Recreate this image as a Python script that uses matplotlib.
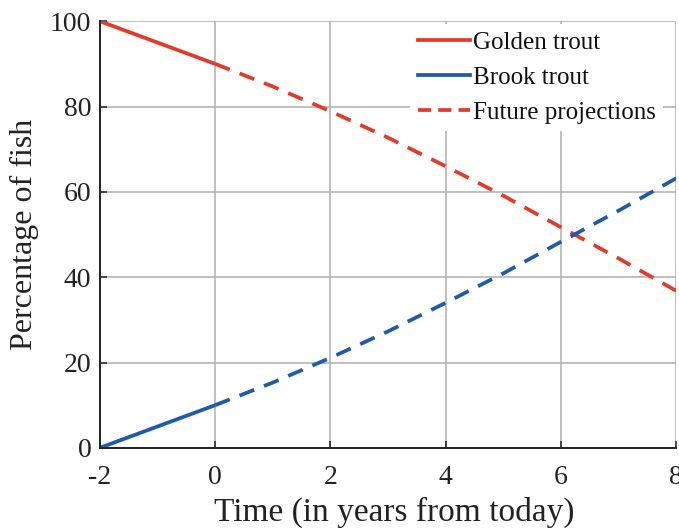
import matplotlib
matplotlib.use("Agg")
import matplotlib.pyplot as plt
from matplotlib.lines import Line2D

plt.rcParams['font.family'] = ['Liberation Serif', 'DejaVu Serif']
plt.rcParams['axes.unicode_minus'] = False

# Data
years_past = [-2, -1, 0]
golden_past = [100, 95, 90]
brook_past = [0, 5, 10]
years_future = [0, 1, 2, 3, 4, 5, 6, 7, 8]
golden_future = [90, 84.7, 78.9, 72.7, 66.0, 59.1, 51.7, 44.4, 36.8]
brook_future = [10, 15.3, 21.1, 27.3, 34.0, 40.9, 48.3, 55.6, 63.2]
xticks = [-2, 0, 2, 4, 6, 8]
yticks = [0, 20, 40, 60, 80, 100]

red = '#E33B2B'
blue = '#1F5BAA'
dash = (0, (4.2, 2.8))

fig = plt.figure(figsize=(6.79, 5.30), dpi=100)
ax = fig.add_axes([0.147, 0.155, 0.849, 0.805])

ax.plot(years_past, golden_past, color=red, lw=2.7, solid_capstyle='butt')
ax.plot(years_past, brook_past, color=blue, lw=2.7, solid_capstyle='butt')
ax.plot(years_future, golden_future, color=red, lw=2.7, linestyle=dash)
ax.plot(years_future, brook_future, color=blue, lw=2.7, linestyle=dash)

ax.set_xlim(-2, 8)
ax.set_ylim(0, 100)
ax.set_xticks(xticks)
ax.set_yticks(yticks)
ax.grid(True, color='#b4b4b4', lw=1.2)
ax.set_axisbelow(True)
for s in ['top', 'right']:
    ax.spines[s].set_visible(False)
for s in ['left', 'bottom']:
    ax.spines[s].set_linewidth(1.4)
    ax.spines[s].set_color('#222222')
ax.tick_params(direction='in', length=5, width=1.1, labelsize=20, colors='#222222')
ax.tick_params(axis='x', pad=12)
ax.tick_params(axis='y', pad=6)
ax.set_xlabel('Time (in years from today)', fontsize=24, color='#222222')
ax.xaxis.set_label_coords(0.51, -0.115)
ax.set_ylabel('Percentage of fish', fontsize=23, color='#222222', labelpad=8)

handles = [Line2D([], [], color=red, lw=2.7),
           Line2D([], [], color=blue, lw=2.7),
           Line2D([], [], color=red, lw=2.7, linestyle=(0, (3.5, 1.9)))]
leg = ax.legend(handles, ['Golden trout', 'Brook trout', 'Future projections'],
                loc='upper right', bbox_to_anchor=(0.977, 0.994),
                fontsize=18, handlelength=2.1, handletextpad=0.1,
                labelspacing=0.5, borderpad=0.3, fancybox=False, framealpha=1,
                edgecolor='none', borderaxespad=0.0)
for t in leg.get_texts():
    t.set_color('#111111')

fig.savefig('out.png', dpi=100)
